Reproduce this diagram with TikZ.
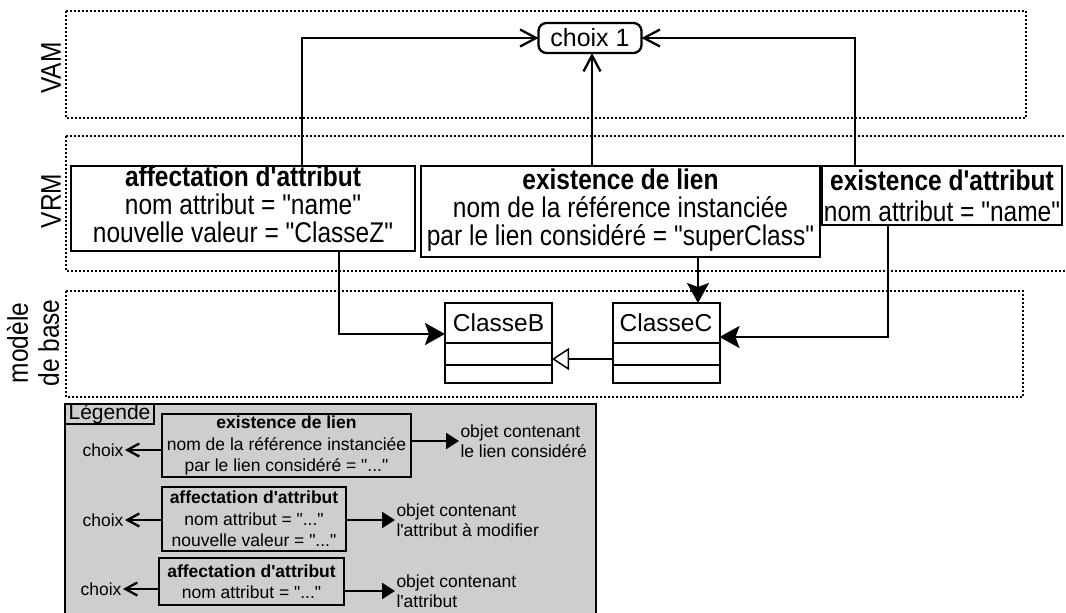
\documentclass[tikz,border=0pt]{standalone}
\usepackage{fontspec}
\setmainfont{Liberation Sans}[Ligatures=TeXOff]
\newfontfamily\tallsans{Liberation Sans}[Ligatures=TeXOff,FakeStretch=0.86]
\usepackage{tikz}
\usetikzlibrary{arrows.meta, positioning}
\definecolor{legendgray}{RGB}{206,206,206}

\begin{document}
\begin{tikzpicture}[x=1pt,y=-1pt,line width=2.3pt,inner sep=0pt,outer sep=0pt]
  \tikzstyle{frame}=[line width=2pt,dash pattern=on 2pt off 2pt]
  \tikzstyle{layer}=[rotate=90,align=center,font=\tallsans\fontsize{28.5}{31}\selectfont]
  \tikzstyle{rule}=[draw,align=center,font=\tallsans\fontsize{28.5}{28}\selectfont]
  \tikzstyle{cls}=[draw,line width=2pt,minimum width=107pt,font=\fontsize{24.5}{27}\selectfont]
  \tikzstyle{leg}=[draw,align=center,font=\fontsize{17.5}{21.5}\selectfont]
  \tikzstyle{legtxt}=[align=left,inner sep=1.5pt,font=\fontsize{17.5}{20}\selectfont]
  \tikzstyle{openarrow}=[-{Straight Barb[length=16pt,width=17pt]}]
  \tikzstyle{blockarrow}=[-{Stealth[length=20pt,width=22pt,inset=4pt]}]
  \tikzstyle{inherit}=[-{Triangle[open,fill=white,length=17pt,width=22pt,line width=1.5pt]}]
  \tikzstyle{legchoix}=[-{Straight Barb[length=12pt,width=13pt]}]
  \tikzstyle{legobj}=[-{Triangle[length=13pt,width=16pt]}]

  \useasboundingbox (0,0) rectangle (1066,613);

  \draw[frame] (66,11) rectangle (1026,118);
  \draw[frame] (66,136) rectangle (1070,271);
  \draw[frame] (66,291) rectangle (1023,397);

  \node[layer] (vamlbl)  at (51,68)  {VAM};
  \node[layer] (vrmlbl)  at (51,201) {VRM};
  \node[layer] (baselbl) at (33,343) {modèle\\de base};

  \node[draw,rounded corners=8pt,minimum width=103pt,minimum height=30pt,
        font=\fontsize{25}{27}\selectfont] (c1) at (590,38) {choix 1};

  \node[rule,minimum width=344pt,minimum height=85pt] (aff) at (243,208.5)
    {\textbf{affectation d'attribut}\\nom attribut = "name"\\nouvelle valeur = "ClasseZ"\strut};
  \node[rule,minimum width=399pt,minimum height=91pt] (lien) at (620.5,211.5)
    {\textbf{existence de lien}\\nom de la référence instanciée\\par le lien considéré = "superClass"\strut};
  \node[rule,minimum width=240pt,minimum height=59pt,
        font=\tallsans\fontsize{28.5}{31}\selectfont] (attr) at (942,195.5)
    {\textbf{existence d'attribut}\\nom attribut = "name"};

  \node[cls,minimum height=40pt] (B) at (498.5,323) {ClasseB};
  \node[cls,minimum height=22pt,below=0pt of B]  (B1) {};
  \node[cls,minimum height=18pt,below=0pt of B1] (B2) {};
  \node[cls,minimum height=40pt] (C) at (666,323) {ClasseC};
  \node[cls,minimum height=22pt,below=0pt of C]  (C1) {};
  \node[cls,minimum height=18pt,below=0pt of C1] (C2) {};

  \coordinate (up) at ([xshift=-28.5pt]lien.north);
  \draw[openarrow] ([xshift=59pt]aff.north) |- (c1.west);
  \draw[openarrow] (up) -- (up |- c1.south);
  \draw[openarrow] ([xshift=-87pt]attr.north) |- (c1.east);

  \draw[blockarrow] ([xshift=96pt]aff.south) |- ([yshift=-11pt]B.west);
  \draw[blockarrow] ([xshift=77.5pt]lien.south) -- ([xshift=32pt]C.north);
  \draw[blockarrow] ([xshift=-54pt]attr.south) |- ([yshift=-14pt]C.east);
  \draw[inherit] ([yshift=-5pt]C1.west) -- ([yshift=-5pt]B1.east);

  % legende
  \draw[fill=legendgray] (65,404) rectangle (596,616);
  \node[draw,line width=1.5pt,minimum width=89pt,minimum height=20pt,
        font=\fontsize{21}{21}\selectfont] (legtitle) at (109.5,414) {Légende};

  \node[leg,minimum width=249pt,minimum height=63pt] (L1) at (286.5,445.5)
    {\textbf{existence de lien}\\nom de la référence instanciée\\par le lien considéré = "..."};
  \node[leg,minimum width=184pt,minimum height=64pt] (L2) at (254,519)
    {\textbf{affectation d'attribut}\\nom attribut = "..."\\nouvelle valeur = "..."};
  \node[leg,minimum width=185pt,minimum height=47pt] (L3) at (251.5,581.5)
    {\textbf{affectation d'attribut}\\nom attribut = "..."};

  \node[legtxt] (ch1) at (103,450) {choix};
  \node[legtxt] (ch2) at (103,520) {choix};
  \node[legtxt] (ch3) at (101,589) {choix};
  \draw[legchoix] (ch1.east -| L1.west) -- (ch1.east);
  \draw[legchoix] (ch2.east -| L2.west) -- (ch2.east);
  \draw[legchoix] (ch3.east -| L3.west) -- (ch3.east);

  \node[legtxt,anchor=west] (ob1) at (459,441) {objet contenant\\le lien considéré};
  \node[legtxt,anchor=west] (ob2) at (395,520) {objet contenant\\l'attribut à modifier};
  \node[legtxt,anchor=west] (ob3) at (395,591) {objet contenant\\l'attribut};
  \draw[legobj] (L1.east |- ob1.west) -- (ob1.west);
  \draw[legobj] (L2.east |- ob2.west) -- (ob2.west);
  \draw[legobj] (L3.east |- ob3.west) -- (ob3.west);
\end{tikzpicture}
\end{document}
